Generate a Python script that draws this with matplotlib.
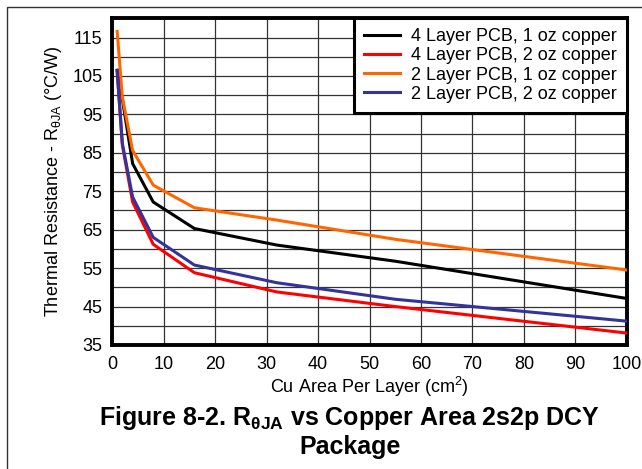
import matplotlib
matplotlib.use("Agg")
import matplotlib.pyplot as plt
from matplotlib.patches import Rectangle

plt.rcParams['font.family'] = ['Liberation Sans', 'DejaVu Sans']

# Cu area per layer (cm^2)
area = [1, 2, 4, 8, 16, 32, 55, 100]

# thermal resistance (C/W)
r_4l_1oz = [106.5, 99.0, 82.2, 72.2, 65.3, 61.0, 56.8, 47.1]
r_4l_2oz = [106.0, 87.0, 72.2, 61.2, 53.8, 48.8, 45.0, 38.1]
r_2l_1oz = [116.6, 99.5, 85.6, 76.6, 70.7, 67.5, 62.5, 54.5]
r_2l_2oz = [106.4, 87.5, 73.5, 63.0, 55.8, 51.2, 46.9, 41.2]

labels = ["4 Layer PCB, 1 oz copper", "4 Layer PCB, 2 oz copper",
          "2 Layer PCB, 1 oz copper", "2 Layer PCB, 2 oz copper"]
colors = ["black", "#ff0000", "#ff6600", "#333399"]

xticks = list(range(0, 101, 10))
yticks = list(range(35, 116, 10))

fig = plt.figure(figsize=(6.42, 4.69), dpi=100)
ax = fig.add_axes([0.1745, 0.2644, 0.8021, 0.6966])

for ys, c, lab in zip([r_4l_1oz, r_4l_2oz, r_2l_1oz, r_2l_2oz], colors, labels):
    ax.plot(area, ys, color=c, lw=2.2, label=lab, zorder=3)

ax.set_xlim(0, 100)
ax.set_ylim(35, 120)
ax.set_xticks(xticks)
ax.set_yticks(yticks)
ax.set_yticks(range(40, 120, 10), minor=True)
ax.grid(True, which='both', color='#333333', lw=0.9)
ax.tick_params(which='both', length=0, labelsize=13)
ax.tick_params(axis='x', pad=8)
ax.tick_params(axis='y', pad=7)
for s in ax.spines.values():
    s.set_linewidth(2.8)

ax.set_xlabel("Cu Area Per Layer (cm$^{\\mathregular{2}}$)", fontsize=13, labelpad=1)
ax.set_ylabel("Thermal Resistance - R$_{\\mathregular{θJA}}$ (°C/W)", fontsize=13, labelpad=6)

leg = ax.legend(loc='upper right', fontsize=13, frameon=True, fancybox=False,
                borderaxespad=0, handlelength=2.0, handletextpad=0.6,
                labelspacing=0.12, borderpad=0.55)
leg.get_frame().set_edgecolor('black')
leg.get_frame().set_linewidth(2.2)
leg.get_frame().set_alpha(1)

fig.text(0.545, 0.08, "Figure 8-2. R$_{\\mathregular{θJA}}$ vs Copper Area 2s2p DCY\nPackage",
         ha='center', va='center', fontsize=18, fontweight='bold', linespacing=1.2)

fig.patches.append(Rectangle((7 / 642, -0.1), 1.2, 1 - 7 / 469 + 0.1, transform=fig.transFigure,
                             fill=False, edgecolor='#333333', lw=1))

fig.savefig("out.png", dpi=100)
